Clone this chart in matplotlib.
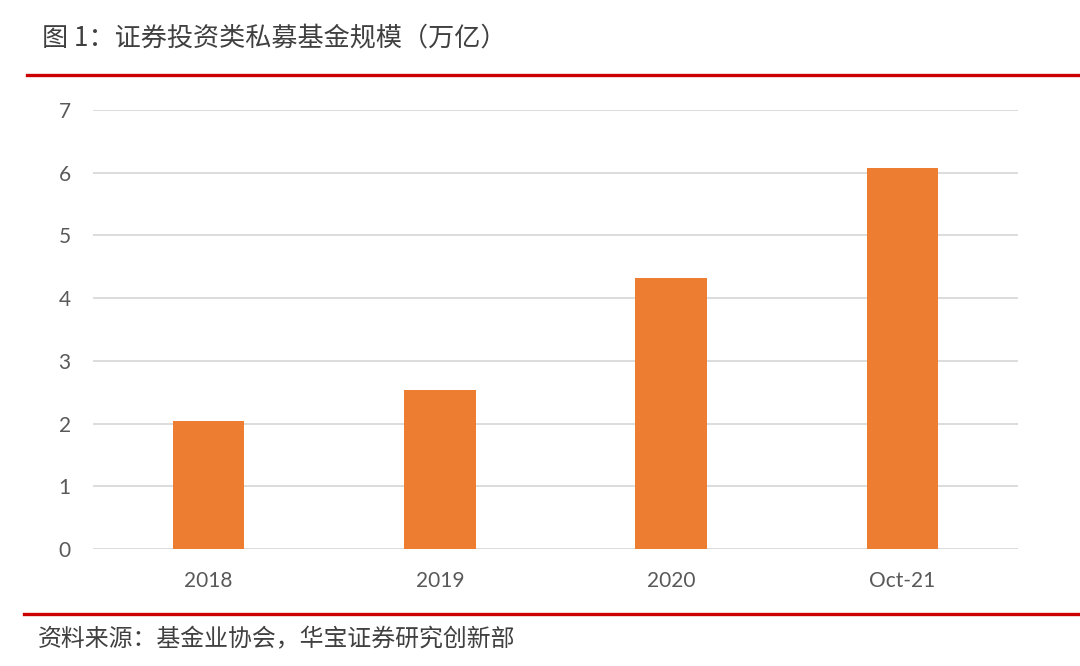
import matplotlib
matplotlib.use("Agg")
import matplotlib.pyplot as plt
from matplotlib.lines import Line2D

categories = ["2018", "2019", "2020", "Oct-21"]
values = [2.04, 2.54, 4.32, 6.08]
yticks = [0, 1, 2, 3, 4, 5, 6, 7]
title = "图 1：证券投资类私募基金规模（万亿）"
source = "资料来源：基金业协会，华宝证券研究创新部"

plt.rcParams['font.family'] = ['Noto Sans CJK SC', 'DejaVu Sans']

fig = plt.figure(figsize=(10.8, 6.66), dpi=100)
ax = fig.add_axes([93/1080, 1-549/666, (1018-93)/1080, (549-110)/666])

x = list(range(len(categories)))
ax.bar(x, values, width=0.31, color="#ED7D31", zorder=3)
ax.set_xlim(-0.5, len(categories) - 0.5)
ax.set_ylim(0, 7)
ax.set_yticks(yticks)
ax.set_yticklabels([str(t) for t in yticks], family=['Lato', 'DejaVu Sans'], fontsize=15, color="#595959")
ax.set_xticks(x)
ax.set_xticklabels(categories, family=['Lato', 'DejaVu Sans'], fontsize=15, color="#595959")
ax.tick_params(axis='y', length=0, pad=16)
ax.tick_params(axis='x', length=0, pad=16)
ax.grid(axis='y', color="#d9d9d9", linewidth=1.3, zorder=0)
for s in ax.spines.values():
    s.set_visible(False)

fig.text(42/1080, 1-38/666, title, fontsize=18.8, color="#404040", va='center', ha='left')
fig.add_artist(Line2D([27/1080, 1.0], [1-75/666, 1-75/666], color="#CC0000", linewidth=2.4, transform=fig.transFigure))
fig.add_artist(Line2D([24/1080, 1.0], [1-614/666, 1-614/666], color="#CC0000", linewidth=2.4, transform=fig.transFigure))
fig.text(38/1080, 1-640/666, source, fontsize=17.2, color="#404040", va='center', ha='left')

fig.savefig("out.png", dpi=100)
